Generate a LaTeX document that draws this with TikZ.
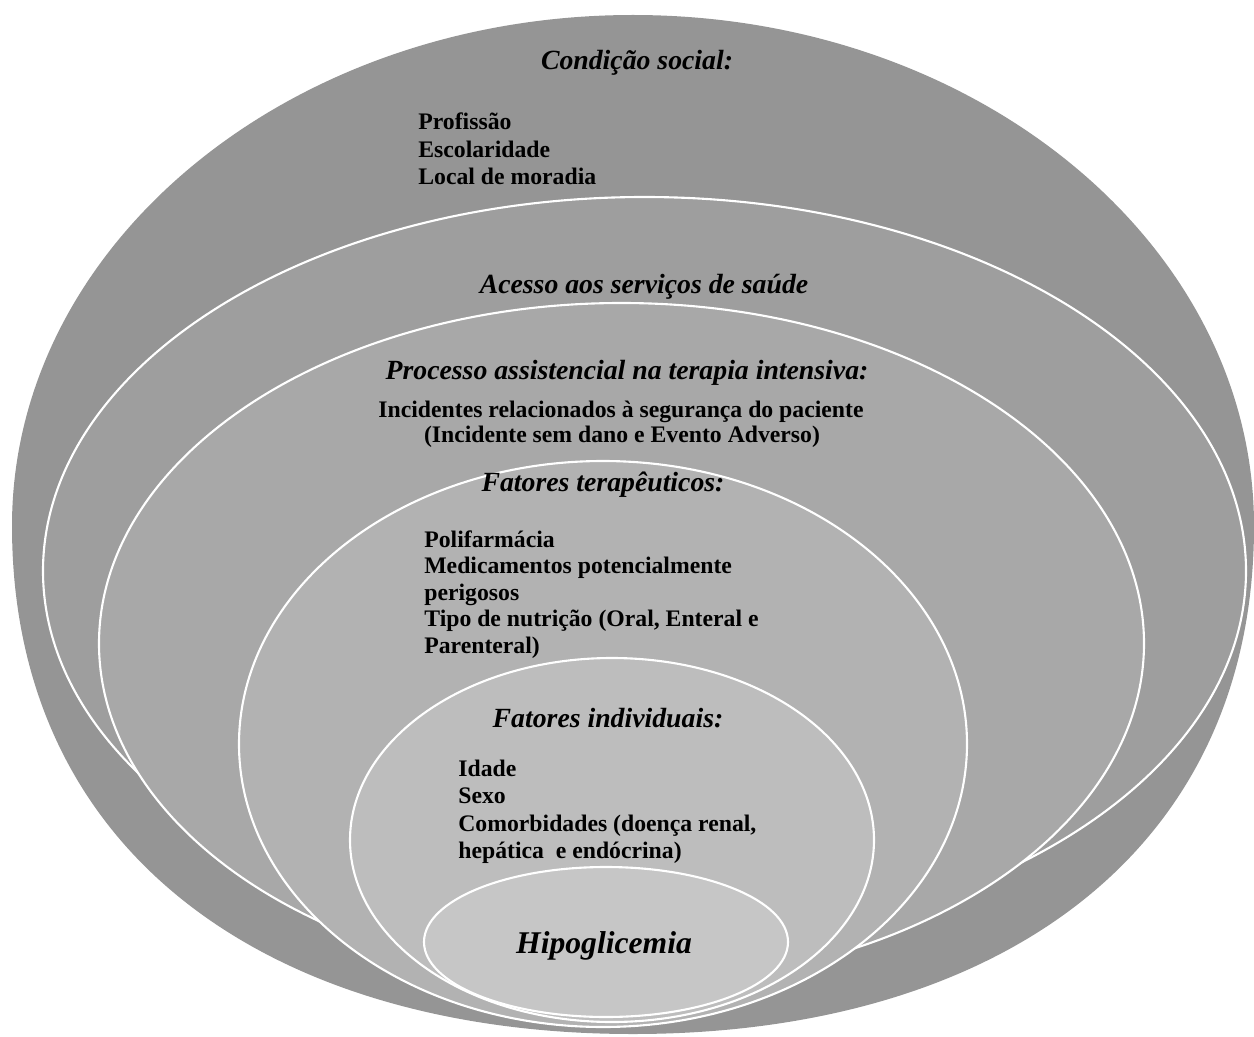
\documentclass[tikz,border=0pt]{standalone}
\usepackage{fontspec}
\setmainfont{Liberation Serif}
\definecolor{cone}{gray}{0.584}
\definecolor{ctwo}{gray}{0.620}
\definecolor{cthree}{gray}{0.659}
\definecolor{cfour}{gray}{0.698}
\definecolor{cfive}{gray}{0.741}
\definecolor{csix}{gray}{0.776}
\tikzset{
  ring/.style={draw=white, line width=1.2pt},
  head/.style={font=\fontsize{15.8}{18}\selectfont\bfseries\itshape, inner sep=0pt, anchor=base},
  bodyl/.style={font=\fontsize{13.5}{15.5}\selectfont\bfseries, inner sep=0pt, anchor=base west},
  bodyc/.style={font=\fontsize{13.5}{15.5}\selectfont\bfseries, inner sep=0pt, anchor=base},
  bighead/.style={font=\fontsize{18}{21}\selectfont\bfseries\itshape, inner sep=0pt, anchor=base},
}
\begin{document}
\begin{tikzpicture}[x=0.02cm,y=-0.02cm]
\useasboundingbox (0,0) rectangle (1254,1037);
% outer shape
\fill[cone] (12,526) arc[start angle=180, end angle=360, x radius=621, y radius=511]
  .. controls (1254,856) and (993,1034) .. (633,1034)
  .. controls (273,1034) and (12,856) .. (12,526) -- cycle;
% nested ellipses
\filldraw[ring, fill=ctwo] (644.5,571) ellipse [x radius=601.5, y radius=374];
\filldraw[ring, fill=cthree] (621.5,643.5) ellipse [x radius=522.5, y radius=340.5];
\filldraw[ring, fill=cfour] (603,744) ellipse [x radius=364, y radius=283];
\filldraw[ring, fill=cfive] (612,840) ellipse [x radius=262, y radius=182];
\filldraw[ring, fill=csix] (606,942) ellipse [x radius=182, y radius=75];
% texts
\node[head] (cs) at (637,70) {Condição social:};
\node[bodyl] (cs1) at (418,130) {Profissão};
\node[bodyl] (cs2) at (418,157.5) {Escolaridade};
\node[bodyl] (cs3) at (418,185) {Local de moradia};
\node[head] (ac) at (644,294) {Acesso aos serviços de saúde};
\node[head] (pa) at (627,379) {Processo assistencial na terapia intensiva:};
\node[bodyc] (pa1) at (621,417) {Incidentes relacionados à segurança do paciente};
\node[bodyc] (pa2) at (622,442) {(Incidente sem dano e Evento Adverso)};
\node[head] (ft) at (603,491) {Fatores terapêuticos:};
\node[bodyl] (ft1) at (424,547) {Polifarmácia};
\node[bodyl] (ft2) at (424,573.5) {Medicamentos potencialmente};
\node[bodyl] (ft3) at (424,600) {perigosos};
\node[bodyl] (ft4) at (424,626.5) {Tipo de nutrição (Oral, Enteral e};
\node[bodyl] (ft5) at (424,653) {Parenteral)};
\node[head] (fi) at (608,727) {Fatores individuais:};
\node[bodyl] (fi1) at (458,776) {Idade};
\node[bodyl] (fi2) at (458,803.5) {Sexo};
\node[bodyl] (fi3) at (458,831) {Comorbidades (doença renal,};
\node[bodyl] (fi4) at (458,858) {hepática\ \ e endócrina)};
\node[bighead] (hg) at (604,953) {Hipoglicemia};
\end{tikzpicture}
\end{document}
